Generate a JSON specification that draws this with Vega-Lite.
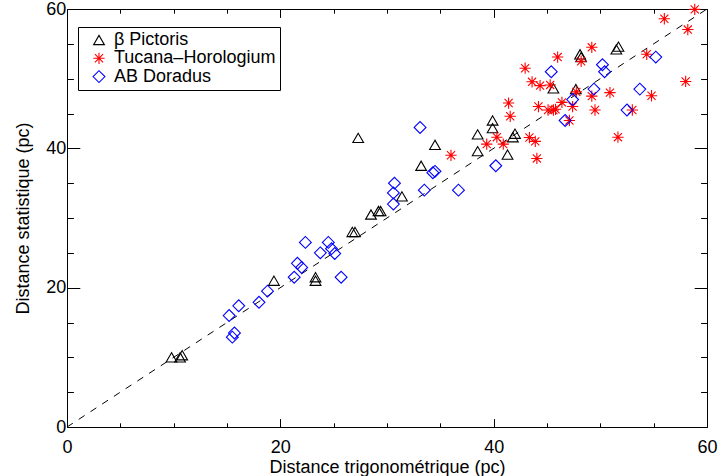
{
  "$schema": "https://vega.github.io/schema/vega-lite/v6.json",
  "width": 640,
  "height": 418,
  "autosize": {"type": "none"},
  "padding": {"left": 67, "top": 9, "right": 11, "bottom": 49},
  "background": "white",
  "config": {
    "view": {"stroke": null},
    "font": "Liberation Sans",
    "axis": {
      "grid": false,
      "domainColor": "black",
      "tickColor": "black",
      "labelColor": "black",
      "titleColor": "black",
      "labelFont": "Liberation Sans",
      "titleFont": "Liberation Sans",
      "labelFontSize": 18,
      "titleFontSize": 18,
      "titleFontWeight": "normal",
      "labelFlush": false,
      "labelOverlap": false,
      "labelBound": false
    }
  },
  "datasets": {
    "pts": [
      {"g": "β Pictoris", "x": 9.8, "y": 10.0},
      {"g": "β Pictoris", "x": 10.6, "y": 10.0},
      {"g": "β Pictoris", "x": 10.8, "y": 10.3},
      {"g": "β Pictoris", "x": 19.4, "y": 21.0},
      {"g": "β Pictoris", "x": 23.3, "y": 21.5},
      {"g": "β Pictoris", "x": 23.3, "y": 21.0},
      {"g": "β Pictoris", "x": 26.75, "y": 28.0},
      {"g": "β Pictoris", "x": 27.0, "y": 28.0},
      {"g": "β Pictoris", "x": 28.5, "y": 30.5},
      {"g": "β Pictoris", "x": 29.2, "y": 31.0},
      {"g": "β Pictoris", "x": 29.4, "y": 31.0},
      {"g": "β Pictoris", "x": 31.4, "y": 33.1},
      {"g": "β Pictoris", "x": 27.3, "y": 41.5},
      {"g": "β Pictoris", "x": 33.2, "y": 37.5},
      {"g": "β Pictoris", "x": 34.5, "y": 40.5},
      {"g": "β Pictoris", "x": 38.5, "y": 42.0},
      {"g": "β Pictoris", "x": 38.5, "y": 39.6},
      {"g": "β Pictoris", "x": 39.9, "y": 44.0},
      {"g": "β Pictoris", "x": 39.9, "y": 42.9},
      {"g": "β Pictoris", "x": 41.3, "y": 39.1},
      {"g": "β Pictoris", "x": 41.8, "y": 41.6},
      {"g": "β Pictoris", "x": 42.0, "y": 42.1},
      {"g": "β Pictoris", "x": 45.6, "y": 48.6},
      {"g": "β Pictoris", "x": 47.7, "y": 48.5},
      {"g": "β Pictoris", "x": 48.1, "y": 53.5},
      {"g": "β Pictoris", "x": 48.2, "y": 53.1},
      {"g": "β Pictoris", "x": 51.5, "y": 54.2},
      {"g": "β Pictoris", "x": 51.7, "y": 54.6},
      {"g": "Tucana–Horologium", "x": 36.0, "y": 39.0},
      {"g": "Tucana–Horologium", "x": 39.35, "y": 40.6},
      {"g": "Tucana–Horologium", "x": 40.3, "y": 41.6},
      {"g": "Tucana–Horologium", "x": 40.9, "y": 40.6},
      {"g": "Tucana–Horologium", "x": 41.4, "y": 46.5},
      {"g": "Tucana–Horologium", "x": 41.55, "y": 44.6},
      {"g": "Tucana–Horologium", "x": 42.95, "y": 51.5},
      {"g": "Tucana–Horologium", "x": 43.6, "y": 49.55},
      {"g": "Tucana–Horologium", "x": 43.35, "y": 41.55},
      {"g": "Tucana–Horologium", "x": 43.9, "y": 41.0},
      {"g": "Tucana–Horologium", "x": 44.05, "y": 38.55},
      {"g": "Tucana–Horologium", "x": 44.2, "y": 46.0},
      {"g": "Tucana–Horologium", "x": 44.35, "y": 49.0},
      {"g": "Tucana–Horologium", "x": 45.1, "y": 45.5},
      {"g": "Tucana–Horologium", "x": 45.3, "y": 49.1},
      {"g": "Tucana–Horologium", "x": 45.6, "y": 45.5},
      {"g": "Tucana–Horologium", "x": 45.8, "y": 45.6},
      {"g": "Tucana–Horologium", "x": 46.0, "y": 53.1},
      {"g": "Tucana–Horologium", "x": 46.4, "y": 46.6},
      {"g": "Tucana–Horologium", "x": 47.1, "y": 44.0},
      {"g": "Tucana–Horologium", "x": 47.4, "y": 46.0},
      {"g": "Tucana–Horologium", "x": 47.75, "y": 48.1},
      {"g": "Tucana–Horologium", "x": 48.2, "y": 52.5},
      {"g": "Tucana–Horologium", "x": 49.2, "y": 54.5},
      {"g": "Tucana–Horologium", "x": 49.2, "y": 47.5},
      {"g": "Tucana–Horologium", "x": 49.5, "y": 45.5},
      {"g": "Tucana–Horologium", "x": 50.9, "y": 48.0},
      {"g": "Tucana–Horologium", "x": 51.65, "y": 41.6},
      {"g": "Tucana–Horologium", "x": 53.0, "y": 45.5},
      {"g": "Tucana–Horologium", "x": 54.35, "y": 53.5},
      {"g": "Tucana–Horologium", "x": 54.8, "y": 47.55},
      {"g": "Tucana–Horologium", "x": 56.0, "y": 58.6},
      {"g": "Tucana–Horologium", "x": 58.0, "y": 49.6},
      {"g": "Tucana–Horologium", "x": 58.2, "y": 57.05},
      {"g": "Tucana–Horologium", "x": 58.85, "y": 59.95},
      {"g": "AB Doradus", "x": 15.5, "y": 12.9},
      {"g": "AB Doradus", "x": 15.7, "y": 13.5},
      {"g": "AB Doradus", "x": 15.2, "y": 16.0},
      {"g": "AB Doradus", "x": 16.1, "y": 17.4},
      {"g": "AB Doradus", "x": 18.0, "y": 17.9},
      {"g": "AB Doradus", "x": 18.8, "y": 19.5},
      {"g": "AB Doradus", "x": 21.3, "y": 21.5},
      {"g": "AB Doradus", "x": 21.6, "y": 23.5},
      {"g": "AB Doradus", "x": 22.0, "y": 22.9},
      {"g": "AB Doradus", "x": 22.35, "y": 26.5},
      {"g": "AB Doradus", "x": 23.75, "y": 25.0},
      {"g": "AB Doradus", "x": 24.5, "y": 26.5},
      {"g": "AB Doradus", "x": 24.8, "y": 25.6},
      {"g": "AB Doradus", "x": 25.1, "y": 24.9},
      {"g": "AB Doradus", "x": 25.7, "y": 21.5},
      {"g": "AB Doradus", "x": 30.6, "y": 32.0},
      {"g": "AB Doradus", "x": 30.6, "y": 33.6},
      {"g": "AB Doradus", "x": 30.7, "y": 35.0},
      {"g": "AB Doradus", "x": 33.5, "y": 34.0},
      {"g": "AB Doradus", "x": 34.3, "y": 36.5},
      {"g": "AB Doradus", "x": 34.5, "y": 36.7},
      {"g": "AB Doradus", "x": 33.1, "y": 43.0},
      {"g": "AB Doradus", "x": 36.7, "y": 34.0},
      {"g": "AB Doradus", "x": 40.2, "y": 37.5},
      {"g": "AB Doradus", "x": 45.4, "y": 51.0},
      {"g": "AB Doradus", "x": 46.7, "y": 44.0},
      {"g": "AB Doradus", "x": 47.4, "y": 47.0},
      {"g": "AB Doradus", "x": 49.4, "y": 48.5},
      {"g": "AB Doradus", "x": 50.2, "y": 52.0},
      {"g": "AB Doradus", "x": 50.4, "y": 51.0},
      {"g": "AB Doradus", "x": 52.5, "y": 45.5},
      {"g": "AB Doradus", "x": 53.7, "y": 48.5},
      {"g": "AB Doradus", "x": 55.2, "y": 53.1}
    ],
    "diag": [{"x": 0, "y": 0}, {"x": 60, "y": 60}]
  },
  "layer": [
    {
      "data": {"name": "diag"},
      "mark": {"type": "line", "color": "black", "strokeWidth": 1, "strokeDash": [7, 7]},
      "encoding": {
        "x": {
          "field": "x", "type": "quantitative",
          "scale": {"domain": [0, 60], "nice": false, "zero": false},
          "axis": {
            "orient": "top", "title": null, "labels": false,
            "values": [0, 5, 10, 15, 20, 25, 30, 35, 40, 45, 50, 55, 60],
            "tickSize": {"condition": {"test": "datum.value % 20 === 0", "value": -8.4}, "value": -4.2}
          }
        },
        "y": {
          "field": "y", "type": "quantitative",
          "scale": {"domain": [0, 60], "nice": false, "zero": false},
          "axis": {
            "orient": "right", "title": null, "labels": false,
            "values": [0, 5, 10, 15, 20, 25, 30, 35, 40, 45, 50, 55, 60],
            "tickSize": {"condition": {"test": "datum.value % 20 === 0", "value": -12.8}, "value": -6.4}
          }
        }
      }
    },
    {
      "data": {"name": "pts"},
      "mark": {"type": "point", "filled": false, "strokeWidth": 1.1, "opacity": 1},
      "encoding": {
        "x": {
          "field": "x", "type": "quantitative",
          "axis": {
            "orient": "bottom",
            "title": "Distance trigonométrique (pc)",
            "titleY": 45, "titleBaseline": "alphabetic",
            "values": [0, 5, 10, 15, 20, 25, 30, 35, 40, 45, 50, 55, 60],
            "labelExpr": "datum.value % 20 === 0 ? datum.label : ''",
            "labelPadding": 20,
            "tickSize": {"condition": {"test": "datum.value % 20 === 0", "value": -8.4}, "value": -4.2}
          }
        },
        "y": {
          "field": "y", "type": "quantitative",
          "axis": {
            "orient": "left",
            "title": "Distance statistique (pc)",
            "titleX": -39, "titleBaseline": "alphabetic",
            "values": [0, 5, 10, 15, 20, 25, 30, 35, 40, 45, 50, 55, 60],
            "labelExpr": "datum.value % 20 === 0 ? datum.label : ''",
            "labelPadding": 14,
            "tickSize": {"condition": {"test": "datum.value % 20 === 0", "value": -12.8}, "value": -6.4}
          }
        },
        "color": {
          "field": "g", "type": "nominal",
          "scale": {"domain": ["β Pictoris", "Tucana–Horologium", "AB Doradus"], "range": ["black", "#ff0000", "#0000ff"]},
          "legend": {
            "title": null,
            "orient": "none", "legendX": 11, "legendY": 18,
            "strokeColor": "black", "fillColor": "white",
            "padding": 4,
            "symbolOffset": 8,
            "labelOffset": 6,
            "labelLimit": 400,
            "rowPadding": 0.3,
            "labelFont": "Liberation Sans", "labelFontSize": 18, "labelColor": "black",
            "symbolStrokeWidth": 1.1
          }
        },
        "shape": {
          "field": "g", "type": "nominal",
          "scale": {"domain": ["β Pictoris", "Tucana–Horologium", "AB Doradus"], "range": ["triangle-up", "M0,-1L0,1M-1,0L1,0M-0.72,-0.72L0.72,0.72M-0.72,0.72L0.72,-0.72", "diamond"]}
        },
        "size": {
          "field": "g", "type": "nominal",
          "scale": {"domain": ["β Pictoris", "Tucana–Horologium", "AB Doradus"], "range": [115, 140, 100]}
        }
      }
    }
  ],
  "resolve": {"axis": {"x": "independent", "y": "independent"}}
}
